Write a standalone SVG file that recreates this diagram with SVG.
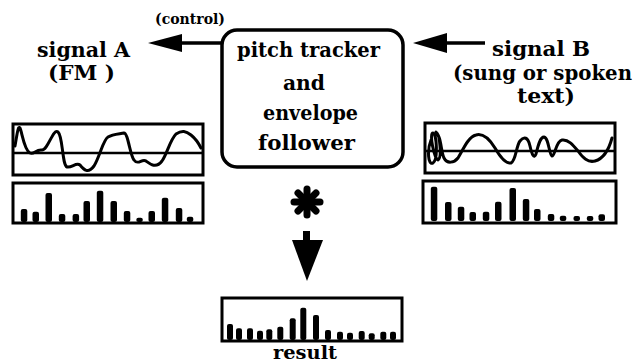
<svg xmlns="http://www.w3.org/2000/svg" width="640" height="363" viewBox="0 0 640 363" font-family="DejaVu Serif, serif">
<style>
.frame{fill:none;stroke:#000;stroke-width:3}
.axis{stroke:#000;stroke-width:2.5}
.wave{fill:none;stroke:#000;stroke-width:3;stroke-linejoin:round;stroke-linecap:round}
.bar{fill:#000}
.shaft{stroke:#000;stroke-width:3.5}
</style>
<rect width="640" height="363" fill="#fff"/>
<g id="tracker" font-family="DejaVu Serif, serif" font-weight="bold" font-size="20">
<rect x="222" y="30" width="181" height="137" rx="15" fill="none" stroke="#000" stroke-width="3.5"/>
<text x="237" y="57" textLength="143" lengthAdjust="spacingAndGlyphs">pitch tracker</text>
<text x="283" y="90" textLength="42" lengthAdjust="spacingAndGlyphs">and</text>
<text x="263" y="120" textLength="95" lengthAdjust="spacingAndGlyphs">envelope</text>
<text x="258" y="150" textLength="97" lengthAdjust="spacingAndGlyphs">follower</text>
</g>
<g id="signalA" font-family="DejaVu Serif, serif" font-weight="bold" font-size="20">
<text x="37" y="57" textLength="93" lengthAdjust="spacingAndGlyphs">signal A</text>
<text x="48" y="80" textLength="67" lengthAdjust="spacingAndGlyphs">(FM )</text>
</g>
<g id="signalB" font-family="DejaVu Serif, serif" font-weight="bold" font-size="20">
<text x="492" y="56" textLength="98" lengthAdjust="spacingAndGlyphs">signal B</text>
<text x="453" y="80" textLength="179" lengthAdjust="spacingAndGlyphs">(sung or spoken</text>
<text x="517" y="103" textLength="58" lengthAdjust="spacingAndGlyphs">text)</text>
</g>
<g id="waveA">
<rect class="frame" x="13" y="124" width="190" height="51"/>
<line class="axis" x1="13" y1="153" x2="203" y2="153"/>
<path class="wave" d="M15,146 C17,135 18,125 20,128 C22,132 24,150 30,153 C34,155 36,149 42,150 C48,150 53,128 58,132 C63,136 62,165 67,167 C72,168 76,162 80,165 C84,170 88,174 94,166 C100,156 103,140 108,137 C113,134 120,134 124,133 C128,133 130,155 134,160 C138,166 142,158 146,161 C150,164 156,169 162,161 C167,154 170,140 176,134 C182,130 186,131 191,135 C196,139 199,144 201,148"/>
</g>
<g id="spectrumA">
<rect class="frame" x="13" y="183" width="190" height="40"/>
<g class="bar">
<rect x="20.8" y="209" width="6.5" height="13" rx="2"/>
<rect x="32.5" y="211.7" width="6.5" height="10.3" rx="2"/>
<rect x="45.5" y="193" width="6.5" height="29" rx="2"/>
<rect x="58.8" y="214" width="6.5" height="8" rx="2"/>
<rect x="72.6" y="214" width="6.5" height="8" rx="2"/>
<rect x="83.5" y="201" width="6.5" height="21" rx="2"/>
<rect x="96.8" y="190.7" width="6.5" height="31.3" rx="2"/>
<rect x="110.5" y="201" width="6.5" height="21" rx="2"/>
<rect x="123.8" y="211" width="6.5" height="11" rx="2"/>
<rect x="136.3" y="217.7" width="6.5" height="4.3" rx="2"/>
<rect x="148.5" y="211" width="6.5" height="11" rx="2"/>
<rect x="161.8" y="197.7" width="6.5" height="24.3" rx="2"/>
<rect x="175.8" y="208" width="6.5" height="14" rx="2"/>
<rect x="186.8" y="216.7" width="6.5" height="5.3" rx="2"/>
</g>
</g>
<g id="waveB">
<rect class="frame" x="425" y="123" width="190" height="50"/>
<line class="axis" x1="425" y1="151" x2="615" y2="151"/>
<path class="wave" d="M431,140 C427,150 428,166 433,163 C438,160 437,134 433,133 C429,133 434,158 438,160 C442,158 440,134 436,132 M436,133 C441,135 441,152 444,158 C447,164 454,163 458,158 C463,150 468,137 476,135 C483,133 490,140 495,148 C499,155 505,164 511,163 C516,161 516,146 520,141 C524,136 528,137 530,146 C532,155 534,159 536,154 C538,146 540,137 544,137 C549,138 549,155 552,156 C555,156 556,141 562,140 C568,139 573,145 578,151 C583,158 588,163 595,161 C602,159 608,153 612,138"/>
</g>
<g id="spectrumB">
<rect class="frame" x="423" y="181" width="193" height="42"/>
<g class="bar">
<rect x="430.8" y="186.7" width="6.5" height="34.3" rx="2"/>
<rect x="445" y="202" width="6.5" height="19" rx="2"/>
<rect x="457.8" y="206.7" width="6.5" height="14.3" rx="2"/>
<rect x="469.5" y="212" width="6.5" height="9" rx="2"/>
<rect x="482.8" y="211.7" width="6.5" height="9.3" rx="2"/>
<rect x="495" y="201.7" width="6.5" height="19.3" rx="2"/>
<rect x="509.5" y="188" width="6.5" height="33" rx="2"/>
<rect x="522.8" y="199" width="6.5" height="22" rx="2"/>
<rect x="534" y="209" width="6.5" height="12" rx="2"/>
<rect x="547.8" y="214" width="6.5" height="7" rx="2"/>
<rect x="559.8" y="215.7" width="6.5" height="5.3" rx="2"/>
<rect x="573.5" y="216" width="6.5" height="5" rx="2"/>
<rect x="586.8" y="216" width="6.5" height="5" rx="2"/>
<rect x="598.5" y="214.3" width="6.5" height="6.7" rx="2"/>
</g>
</g>
<g id="convolve">
<g stroke="#000" stroke-width="7" stroke-linecap="round">
<line x1="307" y1="189" x2="307" y2="215"/>
<line x1="294" y1="202" x2="320" y2="202"/>
<line x1="298" y1="193" x2="316" y2="211"/>
<line x1="316" y1="193" x2="298" y2="211"/>
</g>
</g>
<g id="result">
<rect class="frame" x="222" y="298" width="180" height="43"/>
<g class="bar">
<rect x="227" y="324" width="6" height="16" rx="2"/>
<rect x="236" y="328.3" width="6" height="11.7" rx="2"/>
<rect x="247" y="328.3" width="6" height="11.7" rx="2"/>
<rect x="257" y="330.7" width="6" height="9.3" rx="2"/>
<rect x="266.3" y="329.3" width="6" height="10.7" rx="2"/>
<rect x="277.3" y="326.7" width="6" height="13.3" rx="2"/>
<rect x="289.7" y="318.3" width="6" height="21.7" rx="2"/>
<rect x="300.3" y="307.7" width="6" height="32.3" rx="2"/>
<rect x="313" y="315" width="6" height="25" rx="2"/>
<rect x="325" y="330" width="6" height="10" rx="2"/>
<rect x="337" y="331.7" width="6" height="8.3" rx="2"/>
<rect x="347" y="332.7" width="6" height="7.3" rx="2"/>
<rect x="358.7" y="331" width="6" height="9" rx="2"/>
<rect x="368.7" y="333.3" width="6" height="6.7" rx="2"/>
<rect x="380.3" y="331.7" width="6" height="8.3" rx="2"/>
<rect x="390" y="331.7" width="6" height="8.3" rx="2"/>
</g>
<text font-family="DejaVu Serif, serif" font-weight="bold" font-size="18" x="273" y="359" textLength="64" lengthAdjust="spacingAndGlyphs">result</text>
</g>
<g id="connectors">
<line class="shaft" x1="180" y1="43" x2="222" y2="43"/>
<polygon points="148,43 182,34 182,52" fill="#000"/>
<text font-family="DejaVu Serif, serif" font-weight="bold" font-size="14" x="155" y="24" textLength="70" lengthAdjust="spacingAndGlyphs">(control)</text>
<line class="shaft" x1="445" y1="43" x2="485" y2="43"/>
<polygon points="413,43 447,33 447,53" fill="#000"/>
<rect x="303" y="231" width="7" height="11" fill="#000"/>
<polygon points="292,240 323,240 307,281" fill="#000"/>
</g>
</svg>
